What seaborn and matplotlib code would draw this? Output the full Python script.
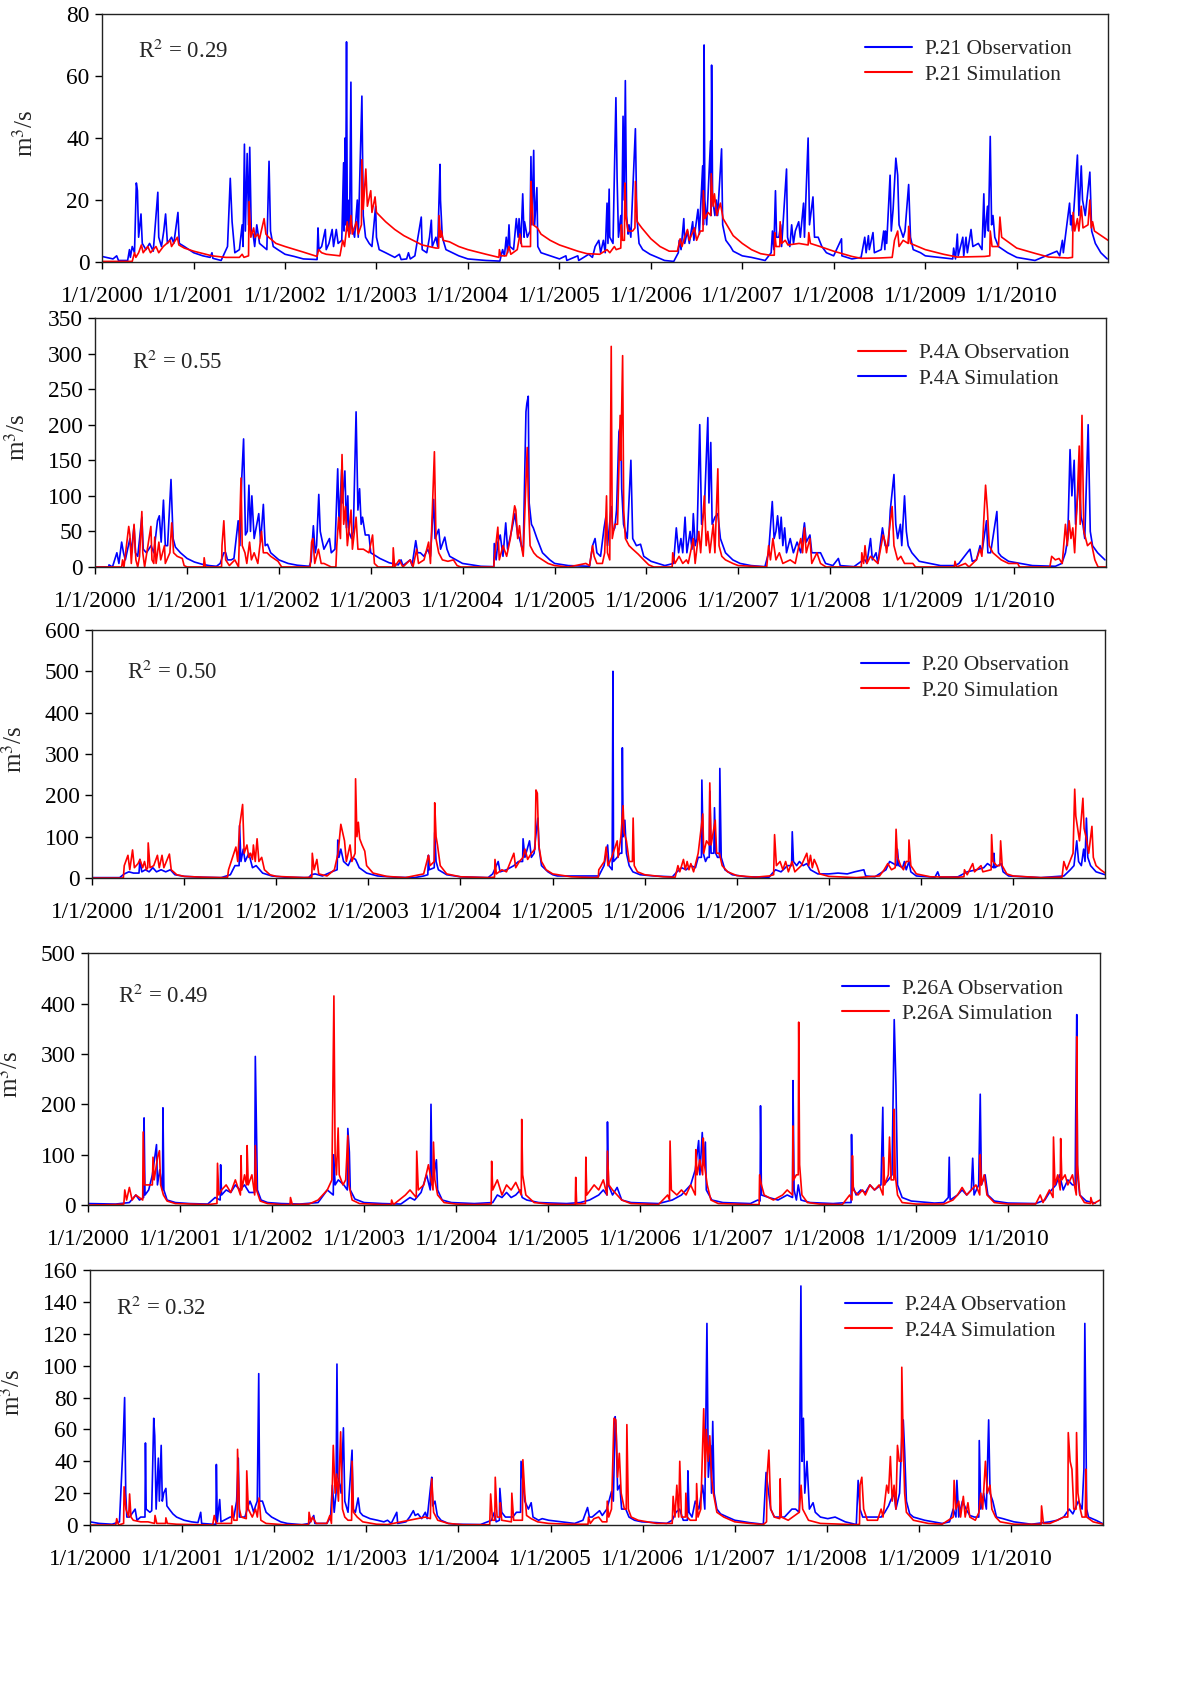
import pandas as pd
import matplotlib
matplotlib.use("Agg")
import matplotlib.pyplot as plt
import seaborn as sns

# Figure configuration
FIG_W = 11.92
FIG_H = 16.84
TICK_FS = 16.8  # tick label size
LEG_FS = 15.5   # legend size
R2_FS = 16.5    # R2 text size
LS = 18         # y label size
BLUE = "#0000FF"
RED = "#FF0000"

# Daily flow, (decimal year, m3/s)
p21_obs = [(2000.00, 1.8), (2000.12, 1.0), (2000.16, 2.0), (2000.18, 0.5), (2000.28, 0.5), (2000.30, 4), (2000.31, 1.5),
           (2000.33, 5), (2000.355, 3), (2000.375, 25.5), (2000.387, 23), (2000.40, 8), (2000.426, 15.5), (2000.44, 6),
           (2000.48, 4), (2000.52, 6), (2000.56, 3.5), (2000.61, 22.5), (2000.62, 8), (2000.65, 5), (2000.675, 10),
           (2000.695, 15.5), (2000.715, 6), (2000.76, 8), (2000.785, 6), (2000.83, 16), (2000.845, 6), (2000.9, 5),
           (2001.0, 3), (2001.1, 2), (2001.18, 1.5), (2001.20, 3), (2001.21, 1.2), (2001.30, 0.5), (2001.37, 5),
           (2001.40, 27), (2001.42, 13), (2001.45, 3), (2001.50, 4), (2001.53, 12), (2001.54, 5), (2001.555, 38),
           (2001.565, 10), (2001.585, 35), (2001.60, 12), (2001.613, 37), (2001.63, 10), (2001.65, 9), (2001.667, 5),
           (2001.69, 12), (2001.72, 6), (2001.76, 5), (2001.80, 4), (2001.824, 32.5), (2001.84, 10), (2001.87, 5),
           (2001.92, 4), (2002.0, 2.5), (2002.1, 1.8), (2002.2, 1), (2002.35, 0.8), (2002.36, 11), (2002.37, 4),
           (2002.40, 5), (2002.44, 10.5), (2002.45, 4), (2002.48, 6), (2002.515, 10.5), (2002.53, 5), (2002.56, 10.5),
           (2002.58, 6), (2002.62, 7), (2002.64, 32), (2002.645, 10), (2002.656, 40), (2002.662, 12), (2002.672, 71),
           (2002.68, 15), (2002.69, 10), (2002.70, 20), (2002.705, 9), (2002.72, 58), (2002.73, 12), (2002.76, 8),
           (2002.79, 20), (2002.80, 8), (2002.84, 53.5), (2002.855, 15), (2002.88, 8), (2002.92, 6), (2002.95, 5),
           (2002.99, 18), (2003.0, 8), (2003.03, 4), (2003.1, 3), (2003.2, 1.5), (2003.25, 2.5), (2003.27, 0.8),
           (2003.33, 1), (2003.35, 3), (2003.37, 1), (2003.42, 2), (2003.49, 14.5), (2003.50, 4), (2003.55, 3),
           (2003.58, 8), (2003.60, 13.5), (2003.61, 5), (2003.65, 8), (2003.67, 5), (2003.695, 31.5), (2003.70, 20),
           (2003.72, 8), (2003.76, 4), (2003.9, 2), (2004.0, 1), (2004.2, 0.5), (2004.35, 0.3), (2004.38, 4),
           (2004.40, 2), (2004.42, 8), (2004.435, 3), (2004.45, 12), (2004.46, 5), (2004.5, 4), (2004.53, 14),
           (2004.55, 8), (2004.56, 14), (2004.58, 6), (2004.60, 22), (2004.615, 8), (2004.62, 13), (2004.65, 8),
           (2004.68, 10), (2004.69, 34), (2004.70, 12), (2004.72, 36), (2004.73, 12), (2004.755, 24), (2004.765, 5),
           (2004.8, 3), (2004.9, 2), (2005.0, 1), (2005.07, 2), (2005.08, 0.5), (2005.2, 2), (2005.21, 0.5),
           (2005.32, 2.5), (2005.36, 1.5), (2005.39, 5), (2005.43, 7), (2005.45, 3), (2005.48, 7), (2005.50, 3),
           (2005.52, 19), (2005.53, 6), (2005.543, 23.5), (2005.55, 8), (2005.585, 6), (2005.617, 53), (2005.63, 27),
           (2005.645, 8), (2005.67, 15), (2005.68, 8), (2005.695, 47), (2005.707, 20), (2005.72, 58.5), (2005.734, 15),
           (2005.75, 9), (2005.76, 12), (2005.78, 8), (2005.83, 43), (2005.845, 15), (2005.87, 6), (2005.91, 4),
           (2005.99, 2.5), (2006.07, 1.5), (2006.15, 0.5), (2006.25, 0.2), (2006.30, 3), (2006.31, 7), (2006.33, 4),
           (2006.36, 14), (2006.37, 6), (2006.40, 10), (2006.42, 6), (2006.457, 13), (2006.47, 7), (2006.515, 17),
           (2006.53, 9), (2006.566, 31), (2006.575, 12), (2006.582, 70), (2006.59, 20), (2006.61, 12), (2006.652, 39),
           (2006.658, 15), (2006.664, 63.5), (2006.675, 20), (2006.70, 15), (2006.715, 20), (2006.73, 15),
           (2006.773, 36.5), (2006.785, 12), (2006.82, 7), (2006.87, 5), (2006.9, 3.5), (2007.0, 2), (2007.1, 1.5),
           (2007.25, 0.5), (2007.316, 3), (2007.33, 10), (2007.345, 4), (2007.363, 23), (2007.375, 8), (2007.40, 8),
           (2007.42, 12), (2007.43, 5), (2007.484, 30), (2007.495, 8), (2007.52, 5), (2007.54, 12), (2007.56, 6),
           (2007.58, 10), (2007.617, 13), (2007.635, 8), (2007.67, 19), (2007.68, 8), (2007.72, 40), (2007.735, 12),
           (2007.773, 21), (2007.79, 8), (2007.83, 8), (2007.87, 5), (2007.92, 3), (2008.0, 2), (2008.086, 7.5),
           (2008.09, 2), (2008.2, 1), (2008.3, 1.5), (2008.34, 8), (2008.355, 3), (2008.38, 8.5), (2008.39, 4),
           (2008.43, 9.5), (2008.445, 3), (2008.52, 4), (2008.547, 10), (2008.56, 4), (2008.566, 10), (2008.58, 6),
           (2008.617, 28), (2008.63, 10), (2008.65, 17), (2008.68, 33.5), (2008.70, 28), (2008.715, 12), (2008.76, 8),
           (2008.78, 10), (2008.82, 25), (2008.84, 8), (2008.87, 4), (2008.95, 3), (2009.0, 2), (2009.3, 1),
           (2009.31, 4.5), (2009.33, 1), (2009.35, 9), (2009.36, 2), (2009.41, 8), (2009.42, 2), (2009.445, 8),
           (2009.46, 3), (2009.50, 10.5), (2009.52, 5), (2009.58, 6), (2009.62, 4), (2009.64, 22), (2009.65, 8),
           (2009.68, 18), (2009.69, 10), (2009.71, 40.5), (2009.725, 12), (2009.74, 15), (2009.76, 8), (2009.80, 5),
           (2009.9, 3), (2010.0, 1.5), (2010.2, 0.5), (2010.44, 3.5), (2010.47, 2), (2010.50, 7), (2010.51, 3),
           (2010.578, 19), (2010.59, 12), (2010.60, 15), (2010.61, 10), (2010.664, 34.5), (2010.68, 15),
           (2010.706, 31), (2010.72, 20), (2010.75, 15), (2010.80, 29), (2010.82, 10), (2010.86, 6), (2010.92, 3),
           (2010.99, 1)]

p21_sim = [(2000.00, 0.2), (2000.33, 0.2), (2000.355, 3), (2000.37, 1.5), (2000.40, 3), (2000.43, 5.5), (2000.45, 3),
           (2000.50, 5), (2000.53, 3), (2000.59, 5), (2000.62, 3), (2000.67, 5), (2000.746, 7), (2000.76, 5),
           (2000.824, 8), (2000.84, 5.5), (2000.9, 4.5), (2001.0, 3.5), (2001.2, 2), (2001.35, 1.5), (2001.5, 1.5),
           (2001.53, 2.5), (2001.55, 1.5), (2001.60, 2), (2001.605, 19.5), (2001.625, 8), (2001.656, 11), (2001.67, 8),
           (2001.70, 9), (2001.72, 7.5), (2001.77, 14), (2001.79, 9), (2001.82, 8), (2001.9, 6), (2002.0, 5),
           (2002.2, 3.2), (2002.35, 1.8), (2002.367, 4), (2002.40, 3), (2002.45, 2.5), (2002.6, 2), (2002.63, 7),
           (2002.65, 5), (2002.68, 13), (2002.70, 8), (2002.72, 15), (2002.735, 9), (2002.78, 13), (2002.80, 9),
           (2002.835, 12), (2002.84, 33), (2002.855, 17), (2002.883, 30), (2002.90, 18), (2002.937, 23), (2002.95, 16),
           (2002.984, 21), (2003.0, 16), (2003.1, 13), (2003.2, 10.5), (2003.3, 8.5), (2003.4, 7), (2003.5, 5.5),
           (2003.65, 4.5), (2003.68, 4.5), (2003.684, 15), (2003.70, 8), (2003.71, 10), (2003.73, 7), (2003.8, 6.5),
           (2003.9, 5), (2004.0, 4), (2004.2, 2.5), (2004.34, 1.5), (2004.345, 4), (2004.36, 2), (2004.42, 2),
           (2004.45, 5), (2004.47, 2.5), (2004.54, 4), (2004.57, 9), (2004.59, 5), (2004.685, 5), (2004.69, 26),
           (2004.70, 20), (2004.715, 12), (2004.76, 11), (2004.8, 9), (2004.9, 7), (2005.0, 5.5), (2005.2, 3.5),
           (2005.3, 2.7), (2005.44, 2.5), (2005.52, 4), (2005.55, 3), (2005.6, 5), (2005.62, 4), (2005.67, 4.5),
           (2005.676, 12), (2005.69, 7), (2005.71, 7), (2005.715, 25.5), (2005.73, 14), (2005.75, 10), (2005.80, 10),
           (2005.825, 11), (2005.83, 26), (2005.85, 13), (2005.9, 11), (2006.0, 7.5), (2006.1, 5), (2006.2, 3.5),
           (2006.29, 3.5), (2006.32, 7.5), (2006.34, 5), (2006.37, 8), (2006.40, 10.5), (2006.42, 7), (2006.477, 11),
           (2006.50, 7), (2006.54, 10), (2006.57, 10), (2006.574, 23), (2006.59, 14), (2006.625, 16), (2006.655, 15),
           (2006.66, 28.5), (2006.68, 18), (2006.695, 22), (2006.72, 15), (2006.76, 19), (2006.79, 14), (2006.9, 8.5),
           (2007.0, 6), (2007.1, 4), (2007.2, 2.7), (2007.3, 2.2), (2007.35, 2.2), (2007.355, 9.5), (2007.37, 5),
           (2007.41, 5), (2007.414, 13), (2007.43, 6), (2007.47, 7), (2007.5, 5.5), (2007.62, 6), (2007.72, 5.5),
           (2007.727, 9.5), (2007.745, 6), (2007.85, 5), (2008.0, 3.5), (2008.2, 1.8), (2008.3, 1.2), (2008.5, 1.3),
           (2008.64, 1.5), (2008.665, 7), (2008.70, 10), (2008.715, 5), (2008.76, 7), (2008.815, 6), (2008.82, 11.5),
           (2008.84, 6), (2009.0, 4), (2009.2, 2.5), (2009.35, 1.6), (2009.65, 1.8), (2009.705, 2), (2009.71, 10),
           (2009.73, 5), (2009.80, 5), (2009.816, 14.5), (2009.835, 8), (2010.0, 4.5), (2010.2, 2.8), (2010.35, 1.6),
           (2010.56, 1.3), (2010.61, 1.5), (2010.617, 16), (2010.635, 10), (2010.664, 14), (2010.68, 10),
           (2010.706, 18), (2010.725, 11), (2010.78, 12), (2010.80, 20), (2010.815, 11), (2010.83, 13), (2010.85, 10),
           (2011.0, 7)]

p4a_obs = [(2000.0, 0), (2000.29, 0), (2000.30, 10), (2000.315, 0), (2000.367, 57), (2000.38, 45), (2000.395, 5),
           (2000.425, 60), (2000.445, 10), (2000.465, 0), (2000.485, 15), (2000.51, 78), (2000.52, 20), (2000.54, 0),
           (2000.608, 57), (2000.62, 10), (2000.64, 5), (2000.65, 42), (2000.665, 5), (2000.695, 35), (2000.715, 10),
           (2000.756, 30), (2000.765, 5), (2000.815, 20), (2000.835, 62), (2000.855, 20), (2000.895, 15),
           (2000.95, 12), (2000.97, 2), (2001.0, 0), (2001.18, 0), (2001.186, 13), (2001.20, 0), (2001.375, 0),
           (2001.38, 30), (2001.40, 65), (2001.42, 10), (2001.46, 2), (2001.52, 10), (2001.56, 0), (2001.587, 125),
           (2001.60, 30), (2001.63, 20), (2001.65, 5), (2001.68, 35), (2001.70, 10), (2001.73, 20), (2001.77, 5),
           (2001.81, 50), (2001.83, 20), (2001.87, 20), (2001.91, 15), (2001.99, 8), (2002.03, 0), (2002.34, 0),
           (2002.356, 35), (2002.37, 40), (2002.39, 5), (2002.43, 25), (2002.46, 5), (2002.49, 5), (2002.57, 0),
           (2002.62, 0), (2002.63, 30), (2002.65, 70), (2002.67, 40), (2002.687, 158), (2002.705, 60), (2002.725, 85),
           (2002.745, 30), (2002.785, 80), (2002.80, 25), (2002.84, 70), (2002.86, 25), (2002.92, 25), (2002.98, 20),
           (2003.02, 45), (2003.04, 5), (2003.08, 0), (2003.24, 0), (2003.245, 27), (2003.26, 0), (2003.31, 10),
           (2003.35, 0), (2003.43, 10), (2003.46, 0), (2003.50, 25), (2003.52, 5), (2003.58, 10), (2003.63, 35),
           (2003.65, 5), (2003.693, 162), (2003.71, 40), (2003.74, 20), (2003.78, 10), (2003.84, 8), (2003.90, 10),
           (2003.94, 2), (2003.98, 0), (2004.34, 0), (2004.345, 10), (2004.384, 56), (2004.40, 10), (2004.44, 30),
           (2004.48, 15), (2004.52, 40), (2004.567, 86), (2004.58, 80), (2004.60, 40), (2004.62, 58), (2004.64, 30),
           (2004.66, 15), (2004.69, 120), (2004.704, 168), (2004.715, 100), (2004.735, 30), (2004.775, 20),
           (2004.81, 15), (2004.87, 10), (2004.93, 5), (2005.0, 2), (2005.15, 0), (2005.265, 3), (2005.34, 5),
           (2005.38, 2), (2005.413, 30), (2005.43, 15), (2005.46, 5), (2005.52, 5), (2005.545, 20), (2005.565, 100),
           (2005.575, 20), (2005.60, 10), (2005.616, 310), (2005.627, 40), (2005.655, 60), (2005.685, 60),
           (2005.713, 213), (2005.72, 150), (2005.74, 297), (2005.752, 80), (2005.77, 40), (2005.81, 30),
           (2005.85, 25), (2005.91, 18), (2005.97, 10), (2006.025, 3), (2006.08, 0), (2006.28, 0), (2006.286, 20),
           (2006.31, 5), (2006.355, 15), (2006.395, 5), (2006.435, 10), (2006.455, 5), (2006.51, 40), (2006.53, 5),
           (2006.57, 50), (2006.59, 20), (2006.63, 100), (2006.65, 30), (2006.668, 50), (2006.69, 20), (2006.727, 60),
           (2006.745, 20), (2006.777, 138), (2006.79, 30), (2006.82, 15), (2006.86, 10), (2006.94, 5), (2007.0, 2),
           (2007.31, 0), (2007.33, 30), (2007.35, 10), (2007.377, 40), (2007.41, 10), (2007.447, 20), (2007.485, 5),
           (2007.565, 10), (2007.62, 5), (2007.66, 30), (2007.68, 40), (2007.70, 20), (2007.72, 55), (2007.74, 20),
           (2007.78, 40), (2007.80, 5), (2007.856, 20), (2007.895, 5), (2007.955, 0), (2008.34, 0), (2008.345, 20),
           (2008.365, 5), (2008.38, 30), (2008.40, 5), (2008.44, 15), (2008.52, 5), (2008.577, 45), (2008.60, 35),
           (2008.615, 20), (2008.675, 85), (2008.695, 30), (2008.735, 10), (2008.77, 15), (2008.81, 5), (2008.9, 5),
           (2008.93, 0), (2009.35, 0), (2009.357, 8), (2009.375, 0), (2009.47, 5), (2009.51, 0), (2009.59, 10),
           (2009.63, 25), (2009.65, 15), (2009.69, 115), (2009.71, 80), (2009.73, 30), (2009.77, 20), (2009.86, 10),
           (2009.94, 5), (2010.04, 5), (2010.06, 0), (2010.39, 0), (2010.41, 15), (2010.45, 10), (2010.49, 12),
           (2010.525, 5), (2010.56, 60), (2010.58, 30), (2010.60, 65), (2010.62, 40), (2010.64, 55), (2010.66, 20),
           (2010.69, 100), (2010.71, 170), (2010.72, 60), (2010.74, 213), (2010.76, 50), (2010.80, 30), (2010.84, 35),
           (2010.88, 10), (2010.915, 0), (2011.0, 0)]

p4a_sim = [(2000.0, 0), (2000.15, 0), (2000.152, 3), (2000.19, 0), (2000.238, 20), (2000.26, 5), (2000.29, 35),
           (2000.31, 20), (2000.33, 10), (2000.38, 40), (2000.395, 20), (2000.425, 58), (2000.44, 20), (2000.465, 15),
           (2000.51, 70), (2000.525, 25), (2000.56, 20), (2000.61, 30), (2000.64, 20), (2000.68, 65), (2000.70, 72),
           (2000.72, 35), (2000.745, 94), (2000.765, 30), (2000.79, 30), (2000.827, 123), (2000.85, 40),
           (2000.875, 28), (2000.93, 20), (2001.0, 12), (2001.08, 7), (2001.16, 4), (2001.24, 2), (2001.32, 1),
           (2001.36, 5), (2001.40, 20), (2001.42, 20), (2001.44, 10), (2001.48, 10), (2001.51, 12), (2001.556, 65),
           (2001.575, 30), (2001.595, 125), (2001.615, 180), (2001.635, 45), (2001.655, 50), (2001.673, 115),
           (2001.69, 50), (2001.705, 100), (2001.73, 40), (2001.78, 75), (2001.80, 35), (2001.83, 88), (2001.85, 30),
           (2001.875, 32), (2001.91, 20), (2002.0, 10), (2002.1, 5), (2002.2, 2.5), (2002.33, 1), (2002.35, 8),
           (2002.375, 58), (2002.395, 20), (2002.41, 30), (2002.434, 102), (2002.45, 50), (2002.49, 25), (2002.55, 40),
           (2002.57, 20), (2002.61, 25), (2002.64, 138), (2002.655, 60), (2002.683, 137), (2002.69, 90),
           (2002.718, 135), (2002.735, 55), (2002.75, 100), (2002.76, 50), (2002.79, 40), (2002.81, 50),
           (2002.84, 218), (2002.86, 80), (2002.878, 110), (2002.895, 60), (2002.91, 70), (2002.94, 45),
           (2002.98, 45), (2003.0, 20), (2003.1, 12), (2003.2, 6), (2003.3, 3), (2003.33, 10), (2003.35, 2),
           (2003.43, 10), (2003.45, 2), (2003.49, 37), (2003.51, 20), (2003.54, 20), (2003.58, 15), (2003.62, 25),
           (2003.65, 15), (2003.685, 95), (2003.70, 40), (2003.74, 53), (2003.76, 25), (2003.806, 42), (2003.83, 25),
           (2003.86, 15), (2004.0, 5), (2004.2, 1), (2004.34, 0.5), (2004.345, 33), (2004.365, 10), (2004.385, 35),
           (2004.41, 45), (2004.44, 15), (2004.47, 62), (2004.49, 25), (2004.54, 55), (2004.57, 75), (2004.60, 45),
           (2004.62, 40), (2004.66, 20), (2004.69, 218), (2004.70, 230), (2004.715, 240), (2004.725, 90),
           (2004.75, 60), (2004.77, 55), (2004.81, 40), (2004.87, 20), (2004.95, 10), (2005.0, 5), (2005.15, 2),
           (2005.38, 1), (2005.413, 30), (2005.44, 40), (2005.46, 20), (2005.50, 15), (2005.538, 55), (2005.557, 70),
           (2005.576, 30), (2005.616, 85), (2005.635, 50), (2005.655, 55), (2005.674, 80), (2005.70, 190),
           (2005.72, 200), (2005.73, 110), (2005.75, 60), (2005.79, 40), (2005.83, 150), (2005.85, 40), (2005.89, 30),
           (2005.935, 32), (2005.97, 15), (2006.05, 8), (2006.2, 2), (2006.295, 5), (2006.325, 55), (2006.35, 20),
           (2006.375, 40), (2006.395, 20), (2006.42, 70), (2006.44, 20), (2006.475, 50), (2006.495, 25),
           (2006.51, 75), (2006.53, 30), (2006.55, 40), (2006.58, 200), (2006.60, 60), (2006.63, 80), (2006.668, 210),
           (2006.68, 90), (2006.70, 175), (2006.715, 60), (2006.745, 70), (2006.777, 75), (2006.805, 40),
           (2006.86, 20), (2006.94, 10), (2007.02, 5), (2007.14, 2), (2007.29, 0.5), (2007.33, 20), (2007.37, 92),
           (2007.39, 40), (2007.41, 50), (2007.428, 72), (2007.45, 40), (2007.467, 70), (2007.485, 30),
           (2007.505, 55), (2007.525, 20), (2007.565, 40), (2007.60, 20), (2007.64, 35), (2007.68, 20), (2007.72, 62),
           (2007.74, 35), (2007.78, 45), (2007.80, 20), (2007.855, 20), (2007.895, 20), (2007.95, 5), (2008.03, 2),
           (2008.09, 12), (2008.11, 2), (2008.26, 0.5), (2008.34, 8), (2008.38, 10), (2008.40, 5), (2008.44, 40),
           (2008.46, 10), (2008.50, 20), (2008.52, 5), (2008.57, 55), (2008.60, 30), (2008.635, 30), (2008.655, 80),
           (2008.695, 130), (2008.715, 60), (2008.735, 40), (2008.765, 60), (2008.78, 30), (2008.81, 100),
           (2008.83, 50), (2008.85, 30), (2008.89, 20), (2008.97, 8), (2009.2, 2), (2009.36, 2), (2009.40, 5),
           (2009.52, 25), (2009.545, 8), (2009.59, 10), (2009.63, 30), (2009.65, 20), (2009.70, 65), (2009.715, 20),
           (2009.745, 20), (2009.813, 78), (2009.83, 20), (2009.86, 15), (2009.94, 8), (2010.2, 2), (2010.45, 1),
           (2010.52, 5), (2010.56, 20), (2010.585, 40), (2010.61, 165), (2010.63, 100), (2010.655, 150),
           (2010.67, 60), (2010.71, 130), (2010.73, 70), (2010.75, 60), (2010.77, 40), (2010.807, 200), (2010.83, 50),
           (2010.855, 30), (2010.91, 20), (2010.99, 10)]

p20_obs = [(2000.0, 1), (2000.3, 1), (2000.35, 10), (2000.40, 15), (2000.45, 12), (2000.51, 12), (2000.52, 45),
           (2000.54, 15), (2000.58, 20), (2000.62, 15), (2000.66, 25), (2000.70, 15), (2000.75, 20), (2000.80, 15),
           (2000.85, 20), (2000.9, 8), (2001.0, 4), (2001.2, 2), (2001.4, 1), (2001.5, 8), (2001.55, 30),
           (2001.595, 30), (2001.60, 127), (2001.615, 40), (2001.64, 70), (2001.66, 40), (2001.70, 60), (2001.74, 25),
           (2001.78, 30), (2001.85, 12), (2001.95, 5), (2002.1, 2), (2002.35, 1), (2002.38, 8), (2002.42, 10),
           (2002.5, 5), (2002.6, 15), (2002.66, 20), (2002.667, 92), (2002.68, 50), (2002.70, 70), (2002.73, 40),
           (2002.78, 30), (2002.82, 50), (2002.86, 45), (2002.9, 25), (2002.98, 12), (2003.1, 5), (2003.3, 2),
           (2003.5, 1), (2003.6, 5), (2003.645, 8), (2003.652, 55), (2003.66, 20), (2003.715, 25), (2003.72, 110),
           (2003.735, 40), (2003.76, 20), (2003.85, 8), (2004.0, 3), (2004.3, 1), (2004.35, 10), (2004.41, 40),
           (2004.43, 15), (2004.50, 20), (2004.58, 30), (2004.63, 40), (2004.675, 40), (2004.68, 95), (2004.70, 50),
           (2004.75, 90), (2004.77, 50), (2004.80, 60), (2004.82, 105), (2004.84, 145), (2004.855, 70), (2004.88, 30),
           (2004.95, 15), (2005.0, 8), (2005.05, 5), (2005.45, 5), (2005.5, 5), (2005.557, 30), (2005.596, 80),
           (2005.61, 30), (2005.645, 20), (2005.654, 500), (2005.66, 40), (2005.70, 50), (2005.73, 60),
           (2005.75, 60), (2005.756, 315), (2005.765, 100), (2005.783, 140), (2005.80, 60), (2005.83, 30),
           (2005.87, 15), (2005.95, 8), (2006.1, 5), (2006.3, 3), (2006.35, 15), (2006.40, 25), (2006.45, 20),
           (2006.50, 30), (2006.55, 25), (2006.58, 50), (2006.615, 50), (2006.62, 237), (2006.635, 60), (2006.66, 40),
           (2006.68, 50), (2006.70, 50), (2006.706, 210), (2006.72, 60), (2006.75, 60), (2006.757, 170),
           (2006.77, 60), (2006.79, 50), (2006.81, 50), (2006.815, 265), (2006.83, 50), (2006.87, 20), (2006.95, 8),
           (2007.1, 3), (2007.35, 2), (2007.38, 10), (2007.42, 20), (2007.48, 15), (2007.55, 30), (2007.595, 30),
           (2007.602, 112), (2007.615, 40), (2007.65, 30), (2007.68, 40), (2007.72, 30), (2007.76, 35), (2007.80, 20),
           (2007.88, 10), (2008.0, 10), (2008.1, 12), (2008.2, 10), (2008.28, 15), (2008.38, 20), (2008.40, 5),
           (2008.5, 3), (2008.55, 10), (2008.62, 20), (2008.66, 40), (2008.74, 30), (2008.744, 70), (2008.76, 30),
           (2008.80, 25), (2008.82, 40), (2008.84, 20), (2008.87, 40), (2008.89, 15), (2008.95, 5), (2009.15, 2),
           (2009.18, 15), (2009.20, 2), (2009.4, 3), (2009.5, 15), (2009.6, 20), (2009.68, 25), (2009.72, 35),
           (2009.785, 25), (2009.79, 60), (2009.80, 25), (2009.87, 35), (2009.89, 15), (2009.95, 5), (2010.3, 1),
           (2010.55, 5), (2010.62, 20), (2010.66, 30), (2010.69, 90), (2010.71, 40), (2010.74, 30), (2010.765, 70),
           (2010.78, 40), (2010.795, 145), (2010.81, 50), (2010.84, 30), (2010.9, 15), (2011.0, 8)]

p20_sim = [(2000.0, 0), (2000.34, 0), (2000.35, 30), (2000.39, 55), (2000.41, 20), (2000.44, 68), (2000.46, 25),
           (2000.50, 35), (2000.52, 45), (2000.55, 25), (2000.57, 40), (2000.59, 20), (2000.605, 25), (2000.61, 85),
           (2000.63, 25), (2000.67, 30), (2000.71, 55), (2000.73, 25), (2000.76, 55), (2000.78, 25), (2000.84, 58),
           (2000.86, 20), (2000.92, 8), (2001.0, 4), (2001.2, 2), (2001.42, 1), (2001.47, 2), (2001.48, 20),
           (2001.56, 75), (2001.58, 40), (2001.60, 125), (2001.633, 178), (2001.65, 60), (2001.68, 80), (2001.70, 50),
           (2001.72, 60), (2001.74, 45), (2001.75, 80), (2001.77, 40), (2001.79, 95), (2001.81, 40), (2001.84, 50),
           (2001.87, 20), (2001.93, 8), (2002.0, 4), (2002.3, 1), (2002.385, 2), (2002.39, 60), (2002.41, 20),
           (2002.44, 45), (2002.46, 10), (2002.55, 5), (2002.63, 20), (2002.67, 60), (2002.70, 130), (2002.71, 120),
           (2002.74, 90), (2002.76, 40), (2002.8, 80), (2002.82, 40), (2002.855, 60), (2002.86, 240), (2002.875, 100),
           (2002.89, 135), (2002.905, 95), (2002.93, 80), (2002.96, 65), (2002.98, 30), (2003.05, 12), (2003.2, 4),
           (2003.4, 1), (2003.6, 10), (2003.652, 55), (2003.67, 30), (2003.715, 40), (2003.72, 182), (2003.735, 100),
           (2003.75, 80), (2003.78, 30), (2003.85, 10), (2004.0, 3), (2004.3, 1), (2004.37, 2), (2004.375, 45),
           (2004.39, 10), (2004.45, 20), (2004.5, 15), (2004.58, 60), (2004.60, 25), (2004.64, 40), (2004.68, 50),
           (2004.70, 70), (2004.73, 45), (2004.77, 60), (2004.81, 70), (2004.82, 213), (2004.835, 205), (2004.85, 80),
           (2004.88, 40), (2004.93, 20), (2005.0, 10), (2005.2, 3), (2005.45, 1), (2005.495, 2), (2005.5, 20),
           (2005.56, 40), (2005.58, 75), (2005.60, 30), (2005.64, 50), (2005.70, 90), (2005.71, 50), (2005.74, 100),
           (2005.764, 175), (2005.775, 110), (2005.80, 90), (2005.83, 40), (2005.865, 40), (2005.873, 145),
           (2005.885, 30), (2005.92, 15), (2006.0, 8), (2006.2, 3), (2006.33, 2), (2006.36, 30), (2006.38, 15),
           (2006.42, 45), (2006.44, 20), (2006.46, 40), (2006.48, 20), (2006.50, 35), (2006.53, 15), (2006.58, 60),
           (2006.63, 155), (2006.64, 60), (2006.67, 90), (2006.70, 80), (2006.706, 230), (2006.72, 80), (2006.765, 140),
           (2006.78, 60), (2006.81, 60), (2006.84, 30), (2006.9, 15), (2007.0, 6), (2007.2, 2), (2007.35, 5),
           (2007.40, 8), (2007.41, 105), (2007.43, 30), (2007.47, 40), (2007.50, 20), (2007.53, 40), (2007.56, 15),
           (2007.60, 40), (2007.63, 15), (2007.70, 30), (2007.76, 60), (2007.78, 30), (2007.80, 55), (2007.82, 25),
           (2007.84, 45), (2007.87, 30), (2007.9, 10), (2008.0, 4), (2008.3, 1), (2008.55, 5), (2008.60, 20),
           (2008.64, 35), (2008.68, 20), (2008.72, 25), (2008.73, 118), (2008.745, 50), (2008.78, 30), (2008.81, 20),
           (2008.84, 40), (2008.865, 40), (2008.87, 92), (2008.89, 30), (2008.95, 10), (2009.1, 3), (2009.4, 2),
           (2009.465, 3), (2009.47, 20), (2009.50, 8), (2009.56, 35), (2009.58, 15), (2009.65, 30), (2009.67, 15),
           (2009.76, 20), (2009.765, 105), (2009.78, 40), (2009.82, 30), (2009.855, 30), (2009.863, 90),
           (2009.88, 30), (2009.93, 10), (2010.0, 5), (2010.3, 1), (2010.53, 2), (2010.55, 40), (2010.58, 20),
           (2010.65, 60), (2010.668, 215), (2010.68, 150), (2010.70, 120), (2010.72, 90), (2010.757, 193),
           (2010.77, 120), (2010.79, 100), (2010.82, 60), (2010.855, 125), (2010.87, 50), (2010.9, 30),
           (2010.95, 20), (2011.0, 12)]

p26a_obs = [(2000.0, 3), (2000.3, 2), (2000.45, 5), (2000.52, 20), (2000.56, 10), (2000.605, 15), (2000.61, 173),
            (2000.62, 20), (2000.66, 30), (2000.70, 60), (2000.745, 120), (2000.755, 40), (2000.78, 70),
            (2000.81, 30), (2000.815, 193), (2000.825, 30), (2000.86, 10), (2000.95, 5), (2001.1, 3), (2001.3, 2),
            (2001.38, 15), (2001.435, 10), (2001.44, 80), (2001.45, 20), (2001.5, 30), (2001.55, 25), (2001.6, 40),
            (2001.65, 30), (2001.7, 40), (2001.75, 25), (2001.81, 25), (2001.817, 295), (2001.83, 145), (2001.84, 30),
            (2001.88, 10), (2001.95, 5), (2002.1, 3), (2002.3, 2), (2002.5, 5), (2002.6, 30), (2002.665, 20),
            (2002.67, 100), (2002.685, 40), (2002.72, 50), (2002.78, 40), (2002.818, 30), (2002.823, 152),
            (2002.84, 105), (2002.85, 30), (2002.9, 12), (2003.0, 5), (2003.2, 3), (2003.4, 2), (2003.5, 15),
            (2003.55, 10), (2003.62, 25), (2003.68, 60), (2003.72, 30), (2003.728, 200), (2003.74, 40), (2003.76, 60),
            (2003.787, 90), (2003.80, 30), (2003.85, 10), (2003.95, 5), (2004.2, 3), (2004.4, 5), (2004.45, 20),
            (2004.5, 15), (2004.55, 25), (2004.6, 15), (2004.65, 20), (2004.7, 30), (2004.72, 15), (2004.77, 10),
            (2004.9, 5), (2005.2, 3), (2005.35, 5), (2005.45, 10), (2005.55, 20), (2005.6, 30), (2005.64, 20),
            (2005.645, 165), (2005.655, 40), (2005.7, 20), (2005.75, 35), (2005.8, 10), (2005.9, 5), (2006.2, 3),
            (2006.35, 10), (2006.45, 20), (2006.55, 40), (2006.6, 70), (2006.637, 128), (2006.65, 60),
            (2006.676, 144), (2006.69, 80), (2006.71, 125), (2006.72, 30), (2006.78, 10), (2006.9, 5), (2007.2, 3),
            (2007.28, 10), (2007.305, 8), (2007.31, 197), (2007.32, 20), (2007.40, 15), (2007.5, 10), (2007.6, 20),
            (2007.658, 15), (2007.663, 247), (2007.675, 30), (2007.70, 10), (2007.72, 40), (2007.75, 10),
            (2007.85, 5), (2008.1, 3), (2008.25, 5), (2008.295, 5), (2008.30, 140), (2008.31, 40), (2008.35, 20),
            (2008.40, 30), (2008.45, 25), (2008.5, 40), (2008.55, 30), (2008.62, 40), (2008.64, 194), (2008.65, 40),
            (2008.70, 50), (2008.74, 60), (2008.764, 368), (2008.783, 237), (2008.80, 40), (2008.85, 15),
            (2008.95, 8), (2009.2, 4), (2009.3, 5), (2009.35, 15), (2009.36, 95), (2009.37, 10), (2009.45, 20),
            (2009.5, 30), (2009.55, 20), (2009.6, 30), (2009.615, 93), (2009.63, 20), (2009.68, 40), (2009.697, 220),
            (2009.71, 40), (2009.75, 60), (2009.78, 20), (2009.85, 8), (2010.0, 4), (2010.3, 3), (2010.4, 10),
            (2010.45, 25), (2010.52, 40), (2010.56, 60), (2010.6, 30), (2010.65, 50), (2010.7, 40), (2010.73, 40),
            (2010.735, 170), (2010.747, 378), (2010.755, 60), (2010.78, 20), (2010.85, 8), (2010.95, 4)]

p26a_sim = [(2000.0, 0), (2000.3, 1), (2000.39, 2), (2000.4, 30), (2000.42, 10), (2000.45, 35), (2000.48, 10),
            (2000.52, 20), (2000.595, 10), (2000.60, 145), (2000.615, 40), (2000.70, 40), (2000.707, 95),
            (2000.72, 50), (2000.757, 95), (2000.777, 108), (2000.79, 40), (2000.82, 20), (2000.86, 8), (2000.95, 3),
            (2001.3, 1), (2001.40, 3), (2001.406, 83), (2001.42, 20), (2001.45, 30), (2001.5, 40), (2001.55, 25),
            (2001.6, 50), (2001.655, 20), (2001.662, 98), (2001.67, 30), (2001.7, 60), (2001.722, 40),
            (2001.728, 118), (2001.74, 40), (2001.78, 60), (2001.81, 20), (2001.817, 118), (2001.83, 30),
            (2001.87, 8), (2001.95, 3), (2002.1, 1), (2002.195, 1), (2002.2, 15), (2002.22, 1), (2002.4, 2),
            (2002.5, 10), (2002.6, 30), (2002.65, 50), (2002.672, 415), (2002.685, 100), (2002.70, 60),
            (2002.718, 153), (2002.73, 60), (2002.77, 40), (2002.8, 50), (2002.823, 138), (2002.835, 40),
            (2002.87, 10), (2002.95, 3), (2003.2, 1), (2003.295, 1), (2003.3, 10), (2003.32, 1), (2003.45, 20),
            (2003.5, 30), (2003.568, 15), (2003.573, 107), (2003.59, 30), (2003.65, 40), (2003.7, 80), (2003.75, 30),
            (2003.755, 125), (2003.77, 50), (2003.8, 20), (2003.87, 5), (2004.0, 2), (2004.2, 1), (2004.383, 2),
            (2004.388, 87), (2004.40, 30), (2004.45, 50), (2004.5, 20), (2004.55, 40), (2004.6, 30), (2004.65, 45),
            (2004.71, 20), (2004.715, 170), (2004.725, 60), (2004.76, 20), (2004.85, 5), (2005.0, 2), (2005.2, 1),
            (2005.295, 1), (2005.3, 55), (2005.31, 2), (2005.405, 3), (2005.41, 95), (2005.42, 20), (2005.5, 40),
            (2005.55, 30), (2005.6, 50), (2005.64, 20), (2005.645, 107), (2005.66, 40), (2005.70, 30), (2005.75, 20),
            (2005.8, 10), (2005.9, 3), (2006.2, 1), (2006.3, 20), (2006.32, 10), (2006.326, 127), (2006.34, 30),
            (2006.4, 20), (2006.45, 30), (2006.5, 20), (2006.55, 40), (2006.60, 20), (2006.606, 110), (2006.62, 60),
            (2006.65, 90), (2006.68, 60), (2006.687, 133), (2006.70, 80), (2006.73, 40), (2006.77, 10), (2006.85, 3),
            (2007.2, 1), (2007.295, 1), (2007.3, 60), (2007.32, 40), (2007.35, 20), (2007.4, 15), (2007.45, 10),
            (2007.55, 20), (2007.6, 30), (2007.658, 20), (2007.663, 157), (2007.67, 50), (2007.70, 60),
            (2007.72, 60), (2007.725, 363), (2007.735, 80), (2007.76, 20), (2007.82, 5), (2007.95, 2), (2008.2, 1),
            (2008.28, 20), (2008.305, 10), (2008.31, 98), (2008.32, 30), (2008.37, 20), (2008.42, 30), (2008.45, 20),
            (2008.5, 40), (2008.55, 30), (2008.6, 40), (2008.642, 20), (2008.647, 95), (2008.66, 40), (2008.7, 60),
            (2008.713, 135), (2008.73, 50), (2008.76, 50), (2008.764, 190), (2008.775, 60), (2008.8, 20),
            (2008.85, 5), (2009.0, 2), (2009.3, 2), (2009.4, 10), (2009.45, 20), (2009.5, 35), (2009.55, 20),
            (2009.6, 30), (2009.65, 40), (2009.692, 20), (2009.697, 100), (2009.71, 40), (2009.74, 60),
            (2009.77, 20), (2009.85, 5), (2010.0, 2), (2010.3, 2), (2010.35, 20), (2010.38, 5), (2010.45, 30),
            (2010.489, 15), (2010.494, 135), (2010.51, 40), (2010.54, 60), (2010.567, 30), (2010.572, 132),
            (2010.585, 50), (2010.62, 60), (2010.65, 40), (2010.7, 60), (2010.742, 20), (2010.747, 334),
            (2010.755, 80), (2010.78, 20), (2010.83, 5), (2010.895, 3), (2010.9, 15), (2010.92, 2), (2011.0, 10)]

p24a_obs = [(2000.0, 2), (2000.1, 1), (2000.24, 0.5), (2000.32, 2), (2000.35, 40), (2000.36, 52), (2000.376, 80),
            (2000.388, 20), (2000.40, 5), (2000.43, 5), (2000.49, 10), (2000.51, 3), (2000.55, 5), (2000.597, 5),
            (2000.602, 51.5), (2000.61, 10), (2000.65, 8), (2000.67, 9), (2000.692, 67), (2000.703, 56),
            (2000.718, 10), (2000.742, 42), (2000.753, 15), (2000.773, 50), (2000.785, 15), (2000.80, 20),
            (2000.824, 23), (2000.835, 12), (2000.86, 10), (2000.90, 7), (2000.94, 5), (2001.02, 3), (2001.1, 2),
            (2001.17, 1.5), (2001.20, 8), (2001.21, 1), (2001.33, 0.5), (2001.365, 0.5), (2001.37, 38), (2001.38, 2),
            (2001.406, 16), (2001.42, 2), (2001.52, 5), (2001.56, 5), (2001.59, 15), (2001.608, 42), (2001.62, 5),
            (2001.68, 5), (2001.715, 12), (2001.735, 15), (2001.755, 12), (2001.775, 8), (2001.795, 12),
            (2001.814, 15), (2001.83, 95), (2001.84, 15), (2001.87, 15), (2001.91, 8), (2001.97, 5), (2002.07, 2),
            (2002.14, 1), (2002.3, 0.2), (2002.38, 1), (2002.428, 6), (2002.44, 1), (2002.57, 1), (2002.61, 5),
            (2002.63, 25), (2002.65, 8), (2002.67, 20), (2002.68, 101), (2002.69, 30), (2002.71, 25), (2002.725, 20),
            (2002.75, 61), (2002.765, 15), (2002.80, 8), (2002.844, 47), (2002.855, 10), (2002.88, 8), (2002.91, 17),
            (2002.93, 8), (2002.96, 6), (2003.04, 4), (2003.12, 3), (2003.19, 2), (2003.23, 3), (2003.27, 1),
            (2003.33, 8), (2003.34, 1), (2003.43, 2), (2003.47, 5), (2003.51, 9), (2003.53, 6), (2003.56, 7),
            (2003.60, 4), (2003.64, 8), (2003.66, 4), (2003.697, 24), (2003.71, 30), (2003.72, 12), (2003.745, 15),
            (2003.77, 6), (2003.81, 3), (2003.89, 1), (2003.97, 0.5), (2004.24, 0.3), (2004.36, 3), (2004.39, 8),
            (2004.41, 2), (2004.445, 3), (2004.45, 23), (2004.47, 8), (2004.51, 5), (2004.59, 5), (2004.63, 8),
            (2004.675, 8), (2004.68, 40), (2004.70, 28), (2004.72, 15), (2004.76, 10), (2004.79, 14), (2004.81, 5),
            (2004.87, 3), (2004.91, 4), (2004.98, 3), (2005.26, 1), (2005.35, 3), (2005.40, 11), (2005.42, 5),
            (2005.45, 5), (2005.53, 9), (2005.56, 6), (2005.61, 10), (2005.66, 21), (2005.68, 15), (2005.70, 68),
            (2005.71, 60), (2005.726, 22), (2005.75, 25), (2005.77, 10), (2005.815, 10), (2005.85, 5), (2005.91, 3),
            (2005.99, 2), (2006.15, 1.5), (2006.26, 1), (2006.32, 3), (2006.36, 8), (2006.40, 10), (2006.44, 3),
            (2006.485, 3), (2006.49, 34), (2006.503, 8), (2006.535, 5), (2006.57, 15), (2006.61, 10), (2006.65, 25),
            (2006.674, 10), (2006.697, 126.5), (2006.712, 30), (2006.736, 50), (2006.747, 20), (2006.76, 65),
            (2006.775, 20), (2006.805, 10), (2006.845, 7), (2006.92, 5), (2007.0, 3), (2007.16, 1.5), (2007.31, 0.5),
            (2007.34, 33), (2007.357, 25), (2007.39, 10), (2007.43, 5), (2007.47, 5), (2007.54, 5), (2007.62, 10),
            (2007.66, 10), (2007.70, 8), (2007.718, 150), (2007.73, 40), (2007.745, 67), (2007.76, 20),
            (2007.784, 40), (2007.81, 10), (2007.85, 14), (2007.874, 8), (2007.93, 5), (2008.01, 4), (2008.09, 5),
            (2008.20, 2), (2008.32, 0.3), (2008.34, 28), (2008.36, 10), (2008.39, 5), (2008.44, 5), (2008.59, 5),
            (2008.63, 8), (2008.67, 12), (2008.69, 15), (2008.73, 20), (2008.75, 10), (2008.79, 20), (2008.814, 55),
            (2008.83, 66), (2008.845, 46), (2008.864, 15), (2008.90, 7), (2008.94, 5), (2009.06, 3), (2009.25, 1),
            (2009.33, 2), (2009.37, 10), (2009.40, 5), (2009.41, 28), (2009.43, 5), (2009.47, 15), (2009.51, 10),
            (2009.55, 6), (2009.60, 5), (2009.648, 5), (2009.653, 53), (2009.67, 10), (2009.70, 20), (2009.73, 10),
            (2009.755, 66), (2009.77, 20), (2009.80, 15), (2009.84, 5), (2009.91, 4), (2010.03, 2), (2010.22, 0.5),
            (2010.42, 2), (2010.50, 3), (2010.57, 5), (2010.63, 10), (2010.67, 7), (2010.73, 15), (2010.77, 10),
            (2010.79, 35), (2010.80, 126.5), (2010.82, 10), (2010.84, 5), (2010.92, 3), (2010.99, 1)]

p24a_sim = [(2000.0, 0), (2000.28, 0), (2000.29, 4), (2000.31, 0), (2000.365, 1), (2000.37, 24), (2000.39, 10),
            (2000.42, 5), (2000.43, 19.5), (2000.445, 5), (2000.47, 3), (2000.55, 2), (2000.63, 2), (2000.70, 1),
            (2000.706, 6), (2000.725, 1), (2000.82, 1), (2000.824, 4.5), (2000.84, 1), (2000.94, 0.5), (2001.33, 0),
            (2001.347, 6), (2001.37, 1), (2001.48, 1), (2001.535, 1), (2001.54, 12), (2001.56, 3), (2001.595, 3),
            (2001.60, 47.5), (2001.62, 10), (2001.64, 5), (2001.695, 4), (2001.70, 34), (2001.717, 10), (2001.76, 5),
            (2001.795, 10), (2001.815, 5), (2001.834, 17), (2001.853, 3), (2001.91, 1), (2002.1, 0.2),
            (2002.372, 0.2), (2002.377, 8), (2002.397, 2), (2002.416, 5), (2002.455, 1), (2002.57, 1),
            (2002.603, 6), (2002.62, 1), (2002.64, 50), (2002.66, 20), (2002.676, 32), (2002.696, 15), (2002.72, 58.5),
            (2002.74, 10), (2002.765, 5), (2002.80, 3), (2002.839, 3), (2002.844, 40), (2002.86, 8), (2002.90, 5),
            (2002.96, 2), (2003.11, 0.5), (2003.23, 0.3), (2003.64, 5), (2003.695, 4), (2003.70, 20), (2003.71, 29),
            (2003.73, 8), (2003.775, 3), (2003.89, 1), (2004.05, 0.2), (2004.34, 0.2), (2004.35, 19.5), (2004.37, 3),
            (2004.395, 3), (2004.40, 30), (2004.42, 5), (2004.45, 5), (2004.455, 14), (2004.47, 3), (2004.575, 2),
            (2004.58, 20), (2004.6, 3), (2004.695, 3), (2004.70, 41), (2004.72, 20), (2004.74, 6), (2004.79, 4),
            (2004.86, 2), (2004.98, 1), (2005.21, 0.5), (2005.405, 0.5), (2005.41, 5), (2005.43, 1), (2005.47, 4),
            (2005.52, 5), (2005.56, 2), (2005.61, 2), (2005.614, 15), (2005.63, 5), (2005.66, 10), (2005.687, 67),
            (2005.707, 66), (2005.726, 30), (2005.745, 45), (2005.765, 20), (2005.80, 10), (2005.82, 10),
            (2005.827, 63), (2005.843, 10), (2005.874, 5), (2005.95, 3), (2006.15, 1), (2006.32, 1), (2006.33, 18),
            (2006.35, 5), (2006.37, 25), (2006.39, 5), (2006.402, 40), (2006.42, 5), (2006.463, 5), (2006.468, 20),
            (2006.483, 5), (2006.515, 3), (2006.58, 3), (2006.585, 26), (2006.60, 5), (2006.63, 10), (2006.662, 73),
            (2006.678, 30), (2006.69, 60), (2006.71, 40), (2006.728, 56), (2006.747, 30), (2006.767, 20),
            (2006.805, 8), (2006.88, 5), (2007.0, 2), (2007.16, 1), (2007.31, 0.3), (2007.345, 2), (2007.35, 30),
            (2007.37, 47), (2007.39, 10), (2007.43, 5), (2007.488, 4), (2007.493, 29), (2007.505, 5), (2007.58, 3),
            (2007.70, 8), (2007.72, 25), (2007.737, 10), (2007.80, 3), (2007.93, 1), (2008.32, 0.2), (2008.355, 0.5),
            (2008.36, 25), (2008.38, 30), (2008.40, 10), (2008.44, 3), (2008.55, 3), (2008.59, 10), (2008.61, 5),
            (2008.65, 25), (2008.67, 20), (2008.69, 43), (2008.71, 15), (2008.73, 25), (2008.75, 10), (2008.767, 50),
            (2008.786, 40), (2008.81, 40), (2008.814, 99), (2008.83, 50), (2008.845, 20), (2008.864, 8), (2008.94, 3),
            (2009.10, 1), (2009.25, 0.5), (2009.37, 5), (2009.38, 28), (2009.40, 10), (2009.43, 15), (2009.45, 5),
            (2009.48, 18), (2009.50, 5), (2009.53, 14), (2009.55, 5), (2009.61, 3), (2009.65, 8), (2009.67, 20),
            (2009.69, 10), (2009.72, 40), (2009.74, 20), (2009.77, 25), (2009.79, 10), (2009.83, 5), (2009.88, 2),
            (2010.03, 0.5), (2010.325, 0.5), (2010.33, 12), (2010.35, 1), (2010.42, 1), (2010.50, 3), (2010.57, 5),
            (2010.615, 5), (2010.62, 58), (2010.64, 40), (2010.66, 35), (2010.68, 10), (2010.705, 10), (2010.71, 58),
            (2010.725, 20), (2010.75, 10), (2010.77, 5), (2010.805, 5), (2010.81, 35), (2010.82, 5), (2010.89, 2),
            (2011.0, 0.5)]

# Panel settings: station, obs, sim, y max, y step, R2 text, axes rect, r2 position
panels = [
    ("P.21", p21_obs, p21_sim, 80, 20, "0.29", [0.0856, 0.8444, 0.844, 0.1473], (0.036, 0.85)),
    ("P.4A", p4a_obs, p4a_sim, 350, 50, "0.55", [0.0797, 0.6633, 0.848, 0.1479], (0.037, 0.82)),
    ("P.20", p20_obs, p20_sim, 600, 100, "0.50", [0.0772, 0.4786, 0.850, 0.1473], (0.035, 0.83)),
    ("P.26A", p26a_obs, p26a_sim, 500, 100, "0.49", [0.0738, 0.2844, 0.849, 0.1496], (0.030, 0.83)),
    ("P.24A", p24a_obs, p24a_sim, 160, 20, "0.32", [0.0755, 0.0944, 0.850, 0.1514], (0.026, 0.85)),
]


def to_dates(series):
    '''Turn decimal years into timestamps.'''
    out = []
    for t, q in series:
        year = int(t)
        out.append(pd.Timestamp(year=year, month=1, day=1) + pd.Timedelta(days=(t - year) * 365.25))
    return out


def draw_panel(fig, station, obs, sim, ymax, ystep, r2, rect, r2_pos):
    '''Draw one observation / simulation hydrograph.'''
    ax = fig.add_axes(rect)

    # P.4A has the colours swapped in the original
    obs_color, sim_color = (RED, BLUE) if station == "P.4A" else (BLUE, RED)

    obs_df = pd.DataFrame({"date": to_dates(obs), "q": [q for t, q in obs]})
    sim_df = pd.DataFrame({"date": to_dates(sim), "q": [q for t, q in sim]})

    if station == "P.4A":
        sns.lineplot(data=sim_df, x="date", y="q", ax=ax, color=sim_color, linewidth=1.2, estimator=None)
        sns.lineplot(data=obs_df, x="date", y="q", ax=ax, color=obs_color, linewidth=1.2, estimator=None)
    else:
        sns.lineplot(data=obs_df, x="date", y="q", ax=ax, color=obs_color, linewidth=1.2, estimator=None)
        sns.lineplot(data=sim_df, x="date", y="q", ax=ax, color=sim_color, linewidth=1.2, estimator=None)

    ax.set_xlim(pd.Timestamp("2000-01-01"), pd.Timestamp("2011-01-01"))
    ax.set_ylim(0, ymax)
    ax.set_yticks(range(0, ymax + 1, ystep))
    years = [pd.Timestamp(year=y, month=1, day=1) for y in range(2000, 2011)]
    ax.set_xticks(years)
    ax.set_xticklabels([f"1/1/{y}" for y in range(2000, 2011)])
    ax.tick_params(axis="both", direction="out", length=5, width=1, labelsize=TICK_FS, colors="black")
    ax.tick_params(axis="x", pad=12)
    ax.tick_params(axis="y", pad=4)
    for side in ["left", "right", "top", "bottom"]:
        ax.spines[side].set_visible(True)
        ax.spines[side].set_linewidth(1.0)
        ax.spines[side].set_color("#222222")

    ax.set_xlabel("")
    ax.set_ylabel("m$^3$/s", fontsize=LS)
    ax.yaxis.set_label_coords(-0.064, 0.52)

    ax.text(r2_pos[0], r2_pos[1], f"R$^2$ = {r2}", transform=ax.transAxes, fontsize=R2_FS, va="center", ha="left")

    handles = [plt.Line2D([], [], color=obs_color, linewidth=1.5), plt.Line2D([], [], color=sim_color, linewidth=1.5)]
    labels = [f"{station} Observation", f"{station} Simulation"]
    ax.legend(handles, labels, loc="upper right", frameon=False, fontsize=LEG_FS, handlelength=2.2,
              handletextpad=0.6, labelspacing=0.25, borderaxespad=0.6, bbox_to_anchor=(0.985, 0.985))
    return ax


sns.set_style("ticks")
plt.rcParams["font.family"] = ["Liberation Serif", "DejaVu Serif"]
plt.rcParams["mathtext.fontset"] = "stix"

fig = plt.figure(figsize=(FIG_W, FIG_H), dpi=100)
for station, obs, sim, ymax, ystep, r2, rect, r2_pos in panels:
    draw_panel(fig, station, obs, sim, ymax, ystep, r2, rect, r2_pos)

fig.savefig("out.png", dpi=100)
